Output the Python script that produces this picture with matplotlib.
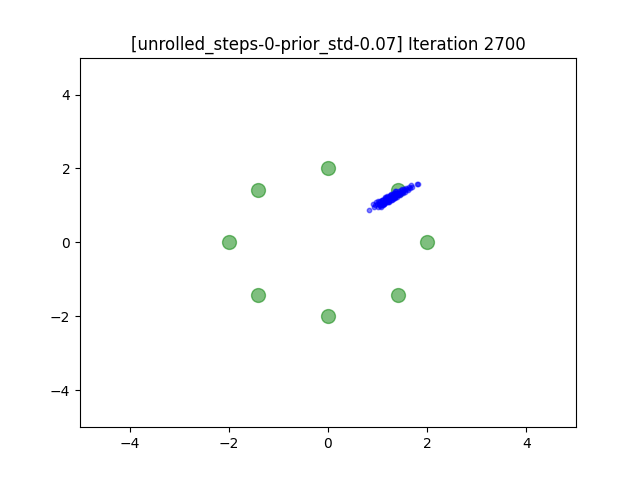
import numpy as np
import matplotlib
matplotlib.use('Agg')
import matplotlib.pyplot as plt

# mixture centres (8 gaussians on a circle of radius 2)
centre_x = [2.0, 1.414, 0.0, -1.414, -2.0, -1.414, 0.0, 1.414]
centre_y = [0.0, 1.414, 2.0, 1.414, 0.0, -1.414, -2.0, -1.414]

# generated samples
sample_x = [0.83, 0.90, 0.95, 0.98, 1.00, 1.02, 1.04, 1.05, 1.07, 1.08,
            1.10, 1.11, 1.12, 1.13, 1.15, 1.16, 1.17, 1.18, 1.20, 1.21,
            1.22, 1.23, 1.25, 1.26, 1.27, 1.28, 1.30, 1.31, 1.32, 1.33,
            1.35, 1.36, 1.37, 1.38, 1.40, 1.41, 1.42, 1.44, 1.45, 1.47,
            1.48, 1.50, 1.52, 1.54, 1.56, 1.58, 1.60, 1.63, 1.66, 1.70,
            1.80, 1.82, 1.02, 1.08, 1.14, 1.19, 1.24, 1.29, 1.34, 1.39,
            1.43, 1.49, 1.06, 1.12, 1.18, 1.28, 1.36, 1.46, 0.93, 1.55,
            0.97, 1.01, 1.05, 1.10, 1.15, 1.20, 1.25, 1.30, 1.35, 1.40,
            1.09, 1.14, 1.22, 1.27, 1.33, 1.38, 1.45, 1.52, 1.62, 1.68]
sample_y = [0.89, 1.03, 1.00, 1.05, 0.97, 1.08, 1.02, 1.12, 1.06, 1.00,
            1.10, 1.15, 1.08, 1.04, 1.17, 1.12, 1.20, 1.10, 1.15, 1.22,
            1.18, 1.13, 1.25, 1.20, 1.16, 1.28, 1.23, 1.18, 1.30, 1.26,
            1.22, 1.33, 1.28, 1.25, 1.35, 1.30, 1.27, 1.38, 1.33, 1.36,
            1.42, 1.37, 1.40, 1.45, 1.41, 1.47, 1.44, 1.50, 1.46, 1.51,
            1.57, 1.58, 1.04, 1.14, 1.20, 1.24, 1.21, 1.24, 1.35, 1.31,
            1.34, 1.44, 0.96, 1.05, 1.25, 1.20, 1.39, 1.32, 0.96, 1.36,
            1.09, 1.12, 0.98, 1.02, 1.07, 1.08, 1.29, 1.15, 1.20, 1.24,
            1.16, 1.22, 1.10, 1.31, 1.20, 1.38, 1.28, 1.34, 1.41, 1.54]

plt.figure(figsize=(6.4, 4.8))
plt.scatter(centre_x, centre_y, s=100, c='g', alpha=0.5)
plt.scatter(sample_x, sample_y, s=10, c='b', alpha=0.5)
plt.xlim(-5, 5)
plt.ylim(-5, 5)
plt.title('[unrolled_steps-0-prior_std-0.07] Iteration 2700')
plt.savefig('out.png')
